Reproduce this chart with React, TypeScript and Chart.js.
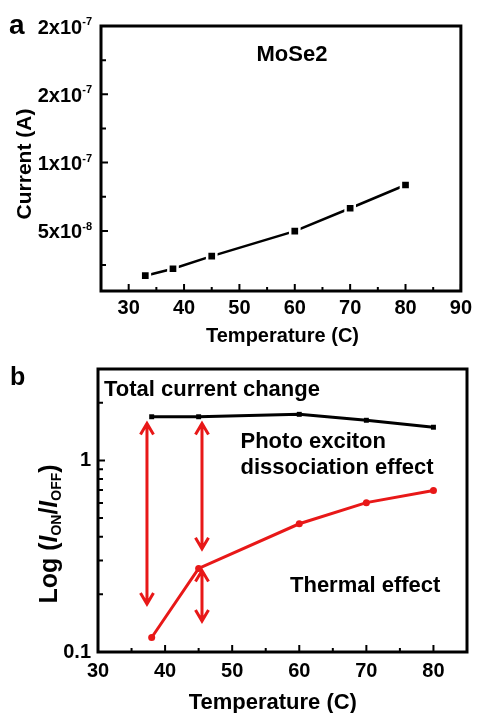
import React, { useEffect, useRef } from 'react';
import { Chart, registerables } from 'chart.js';

Chart.register(...registerables);

const FONT = "'Liberation Sans', Arial, Helvetica, sans-serif";
const RED = '#e81818';

// ---- Panel a data ----
const tempA = [33, 38, 45, 60, 70, 80];
const currentA = [1.72e-8, 2.23e-8, 3.15e-8, 4.98e-8, 6.66e-8, 8.36e-8];
const xTicksA = [30, 40, 50, 60, 70, 80, 90];
const xMinorA = [35, 45, 55, 65, 75, 85];
const yTicksA = [5e-8, 1e-7, 1.5e-7, 2e-7];
const yTickBaseA = ['5x10', '1x10', '2x10', '2x10'];
const yTickExpA = ['-8', '-7', '-7', '-7'];
const yMinorA = [2.5e-8, 7.5e-8, 1.25e-7, 1.75e-7];

// ---- Panel b data ----
const tempB = [38, 45, 60, 70, 80];
const totalB = [1.69, 1.69, 1.74, 1.62, 1.49];
const thermalB = [0.119, 0.273, 0.467, 0.602, 0.696];
const xTicksB = [30, 40, 50, 60, 70, 80];
const xMinorB = [35, 45, 55, 65, 75, 85];
const yTicksB = [0.1, 1];
const yMinorB = [0.2, 0.3, 0.4, 0.5, 0.6, 0.7, 0.8, 0.9, 2, 3];
const arrowX = [37.3, 45.5, 45.5];
const arrowTop = [1.56, 1.56, 0.266];
const arrowBottom = [0.178, 0.346, 0.145];

function drawFrameAndTicks(chart: any, xMaj: number[], xMin: number[], yMaj: number[], yMin: number[]) {
  const ctx = chart.ctx;
  const { left, right, top, bottom } = chart.chartArea;
  const xs = chart.scales.x;
  const ys = chart.scales.y;
  ctx.save();
  ctx.strokeStyle = '#000';
  ctx.lineWidth = 2;
  ctx.beginPath();
  xMaj.forEach((v) => { const p = xs.getPixelForValue(v); ctx.moveTo(p, bottom); ctx.lineTo(p, bottom - 7); });
  xMin.forEach((v) => { const p = xs.getPixelForValue(v); ctx.moveTo(p, bottom); ctx.lineTo(p, bottom - 4); });
  yMaj.forEach((v) => { const p = ys.getPixelForValue(v); ctx.moveTo(left, p); ctx.lineTo(left + 7, p); });
  yMin.forEach((v) => { const p = ys.getPixelForValue(v); ctx.moveTo(left, p); ctx.lineTo(left + 5, p); });
  ctx.stroke();
  ctx.lineWidth = 3;
  ctx.strokeRect(left, top, right - left, bottom - top);
  ctx.restore();
}

function text(ctx: any, s: string, x: number, y: number, font: string, align = 'left') {
  ctx.font = font;
  ctx.textAlign = align;
  ctx.textBaseline = 'alphabetic';
  ctx.fillStyle = '#000';
  ctx.fillText(s, x, y);
}

function arrowHead(ctx: any, x: number, y: number, dir: number) {
  ctx.moveTo(x - 6.5, y + dir * 11);
  ctx.lineTo(x, y);
  ctx.lineTo(x + 6.5, y + dir * 11);
}

const axisTickFont = { family: FONT, size: 20, weight: 'bold' as const };

export default function App() {
  const refA = useRef<HTMLCanvasElement>(null);
  const refB = useRef<HTMLCanvasElement>(null);

  useEffect(() => {
    const chartA = new Chart(refA.current as HTMLCanvasElement, {
      type: 'line',
      data: {
        datasets: [
          {
            data: tempA.map((t, i) => ({ x: t, y: currentA[i] })),
            borderColor: '#000',
            borderWidth: 2.5,
            pointStyle: 'rect',
            pointRadius: 6.5,
            pointBackgroundColor: '#000',
            pointBorderColor: '#fff',
            pointBorderWidth: 2.5,
            tension: 0,
          },
        ],
      },
      options: {
        responsive: false,
        animation: false,
        layout: { padding: { left: 0, top: 26, right: 15, bottom: 368 } },
        plugins: { legend: { display: false }, tooltip: { enabled: false } },
        scales: {
          x: {
            type: 'linear',
            min: 25,
            max: 90,
            afterBuildTicks: (s: any) => { s.ticks = xTicksA.map((v) => ({ value: v })); },
            afterFit: (s: any) => { s.height = 54; },
            grid: { display: false, drawTicks: false },
            border: { display: false },
            ticks: { font: axisTickFont, color: '#000', padding: 5, maxRotation: 0, autoSkip: false },
          },
          y: {
            type: 'linear',
            min: 0.6e-8,
            max: 2e-7,
            afterBuildTicks: (s: any) => { s.ticks = yTicksA.map((v) => ({ value: v })); },
            afterFit: (s: any) => { s.width = 101; },
            grid: { display: false, drawTicks: false },
            border: { display: false },
            ticks: { display: false },
          },
        },
      },
      plugins: [
        {
          id: 'decorA',
          afterDraw(chart: any) {
            const ctx = chart.ctx;
            drawFrameAndTicks(chart, xTicksA, xMinorA, yTicksA, yMinorA);
            ctx.save();
            // y tick labels with superscripts
            const ys = chart.scales.y;
            yTicksA.forEach((v, i) => {
              const p = ys.getPixelForValue(v);
              ctx.font = `bold 20px ${FONT}`;
              const wm = ctx.measureText(yTickBaseA[i]).width;
              ctx.font = `bold 11px ${FONT}`;
              const we = ctx.measureText(yTickExpA[i]).width;
              const x0 = 92 - wm - we;
              text(ctx, yTickBaseA[i], x0, p + 7.5, `bold 20px ${FONT}`);
              text(ctx, yTickExpA[i], x0 + wm, p - 1, `bold 11px ${FONT}`);
            });
            text(ctx, 'a', 9, 34, `bold 28px ${FONT}`);
            text(ctx, 'MoSe2', 256.5, 60.5, `bold 22px ${FONT}`);
            text(ctx, 'Temperature (C)', 282.5, 341.5, `bold 20px ${FONT}`, 'center');
            ctx.translate(30.7, 164);
            ctx.rotate(-Math.PI / 2);
            text(ctx, 'Current (A)', 0, 0, `bold 21px ${FONT}`, 'center');
            ctx.restore();
          },
        },
      ],
    } as any);

    const chartB = new Chart(refB.current as HTMLCanvasElement, {
      type: 'line',
      data: {
        datasets: [
          {
            data: tempB.map((t, i) => ({ x: t, y: totalB[i] })),
            borderColor: '#000',
            borderWidth: 3,
            pointStyle: 'rect',
            pointRadius: 3.5,
            pointBackgroundColor: '#000',
            pointBorderWidth: 0,
            tension: 0,
          },
          {
            data: tempB.map((t, i) => ({ x: t, y: thermalB[i] })),
            borderColor: RED,
            borderWidth: 3,
            pointStyle: 'circle',
            pointRadius: 3.5,
            pointBackgroundColor: RED,
            pointBorderWidth: 0,
            tension: 0,
          },
        ],
      },
      options: {
        responsive: false,
        animation: false,
        layout: { padding: { left: 0, top: 369, right: 10, bottom: 0 } },
        plugins: { legend: { display: false }, tooltip: { enabled: false } },
        scales: {
          x: {
            type: 'linear',
            min: 30,
            max: 85,
            afterBuildTicks: (s: any) => { s.ticks = xTicksB.map((v) => ({ value: v })); },
            afterFit: (s: any) => { s.height = 61; },
            grid: { display: false, drawTicks: false },
            border: { display: false },
            ticks: { font: axisTickFont, color: '#000', padding: 7, maxRotation: 0, autoSkip: false },
          },
          y: {
            type: 'logarithmic',
            min: 0.1,
            max: 3,
            afterBuildTicks: (s: any) => { s.ticks = yTicksB.map((v) => ({ value: v })); },
            afterFit: (s: any) => { s.width = 98; },
            grid: { display: false, drawTicks: false },
            border: { display: false },
            ticks: {
              font: axisTickFont,
              color: '#000',
              padding: 7,
              callback: (v: any) => String(v),
            },
          },
        },
      },
      plugins: [
        {
          id: 'arrowsB',
          beforeDatasetsDraw(chart: any) {
            const ctx = chart.ctx;
            const xs = chart.scales.x;
            const ys = chart.scales.y;
            ctx.save();
            ctx.strokeStyle = RED;
            ctx.lineWidth = 3;
            ctx.lineJoin = 'miter';
            arrowX.forEach((xv, i) => {
              const x = xs.getPixelForValue(xv);
              const y1 = ys.getPixelForValue(arrowTop[i]);
              const y2 = ys.getPixelForValue(arrowBottom[i]);
              ctx.beginPath();
              ctx.moveTo(x, y1 + 1);
              ctx.lineTo(x, y2 - 1);
              arrowHead(ctx, x, y1, 1);
              arrowHead(ctx, x, y2, -1);
              ctx.stroke();
            });
            ctx.restore();
          },
          afterDraw(chart: any) {
            const ctx = chart.ctx;
            drawFrameAndTicks(chart, xTicksB, xMinorB, yTicksB, yMinorB);
            ctx.save();
            text(ctx, 'b', 10, 385, `bold 25px ${FONT}`);
            text(ctx, 'Total current change', 104, 395.5, `bold 22px ${FONT}`);
            text(ctx, 'Photo exciton', 240.5, 447.7, `bold 22px ${FONT}`);
            text(ctx, 'dissociation effect', 240.5, 474.3, `bold 22px ${FONT}`);
            text(ctx, 'Thermal effect', 290, 591.7, `bold 22px ${FONT}`);
            text(ctx, 'Temperature (C)', 272.8, 708.5, `bold 22px ${FONT}`, 'center');
            // rotated y title with italic I and subscripts
            const main = `bold 25px ${FONT}`;
            const ital = `italic bold 25px ${FONT}`;
            const sub = `bold 14px ${FONT}`;
            const segs = [
              { t: 'Log (', f: main, dy: 0 },
              { t: 'I', f: ital, dy: 0 },
              { t: 'ON', f: sub, dy: 4 },
              { t: '/', f: main, dy: 0 },
              { t: 'I', f: ital, dy: 0 },
              { t: 'OFF', f: sub, dy: 4 },
              { t: ')', f: main, dy: 0 },
            ];
            let total = 0;
            const widths = segs.map((s) => { ctx.font = s.f; const w = ctx.measureText(s.t).width; total += w; return w; });
            ctx.translate(56.5, 534);
            ctx.rotate(-Math.PI / 2);
            let x = -total / 2;
            segs.forEach((s, i) => {
              text(ctx, s.t, x, s.dy, s.f);
              x += widths[i];
            });
            ctx.restore();
          },
        },
      ],
    } as any);

    return () => {
      chartA.destroy();
      chartB.destroy();
    };
  }, []);

  return (
    <div style={{ position: 'fixed', left: 0, top: 0, width: 477, height: 713, background: '#fff' }}>
      <canvas ref={refA} width={477} height={713} style={{ position: 'absolute', left: 0, top: 0 }} />
      <canvas ref={refB} width={477} height={713} style={{ position: 'absolute', left: 0, top: 0 }} />
    </div>
  );
}
